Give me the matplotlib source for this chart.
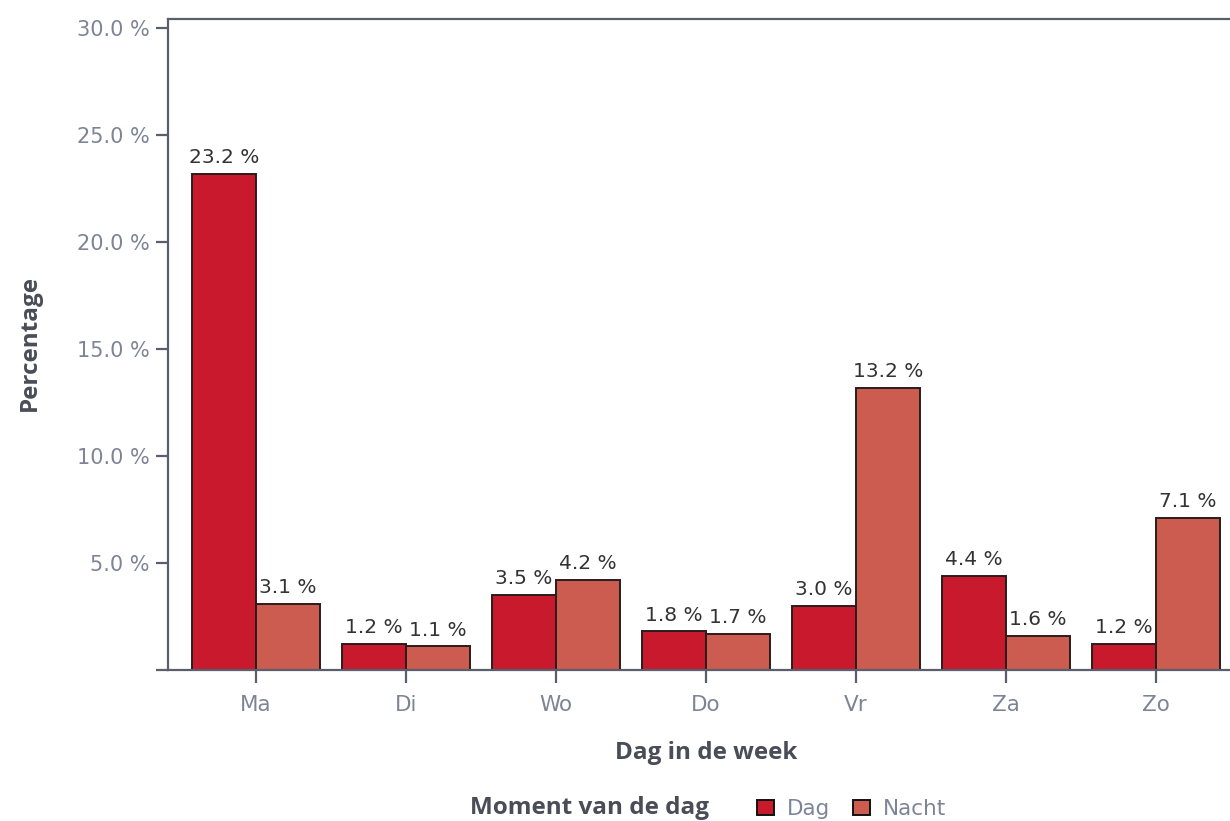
import matplotlib.pyplot as plt
import numpy as np
from matplotlib.patches import Patch
from matplotlib.ticker import FuncFormatter

dagen = ['Ma', 'Di', 'Wo', 'Do', 'Vr', 'Za', 'Zo']
dag = [23.2, 1.2, 3.5, 1.8, 3.0, 4.4, 1.2]
nacht = [3.1, 1.1, 4.2, 1.7, 13.2, 1.6, 7.1]
yticks = [0, 5, 10, 15, 20, 25, 30]

KLEUR_DAG = '#C81A2C'
KLEUR_NACHT = '#CD5C50'
RAND = '#2a1c1c'
AS_KLEUR = '#5a5f6b'
TICK_KLEUR = '#7d8496'
TEKST = '#333333'
TITEL = '#4a4d57'
VET = ['Open Sans', 'DejaVu Sans']

plt.rcParams['font.family'] = ['DejaVu Sans']

W, H = 1230, 821
fig = plt.figure(figsize=(W / 100, H / 100), dpi=100)
# assen lopen rechts iets buiten het beeld door (zoals in het origineel)
ax = fig.add_axes([168 / W, 1 - 670 / H, (1244 - 168) / W, (670 - 19) / H])

x = np.arange(len(dagen))
b = 64 / 150
bars_dag = ax.bar(x - b / 2, dag, b, color=KLEUR_DAG, edgecolor=RAND, linewidth=1.4)
bars_nacht = ax.bar(x + b / 2, nacht, b, color=KLEUR_NACHT, edgecolor=RAND, linewidth=1.4)

for bars in (bars_dag, bars_nacht):
    ax.bar_label(bars, labels=[f'{v:.1f} %' for v in bars.datavalues],
                 padding=5, fontsize=14.5, color=TEKST)

ax.set_xlim(-0.587, 6.587)
ax.set_ylim(0, 30.42)
ax.set_xticks(x)
ax.set_xticklabels(dagen)
ax.set_yticks(yticks)
ax.yaxis.set_major_formatter(FuncFormatter(lambda v, p: '' if v == 0 else f'{v:.1f} %'))

for s in ['left', 'bottom', 'top']:
    ax.spines[s].set_color(AS_KLEUR)
    ax.spines[s].set_linewidth(1.6)
ax.spines['right'].set_visible(False)
ax.tick_params(axis='both', colors=AS_KLEUR, labelcolor=TICK_KLEUR, labelsize=15,
               length=9, width=1.6)
ax.tick_params(axis='x', pad=9, labelsize=15.5)
ax.tick_params(axis='y', pad=4)

ax.set_xlabel('Dag in de week', fontsize=17.5, fontweight='bold', color=TITEL,
              family=VET, labelpad=19)
fig.text(30 / W, 1 - 343 / H, 'Percentage', rotation=90, ha='center', va='center',
         fontsize=17.5, fontweight='bold', color=TITEL, family=VET)

fig.text(590 / W, 1 - 808 / H, 'Moment van de dag', ha='center', va='center',
         fontsize=17.5, fontweight='bold', color=TITEL, family=VET)
handles = [Patch(facecolor=KLEUR_DAG, edgecolor='#111111', linewidth=1.4, label='Dag'),
           Patch(facecolor=KLEUR_NACHT, edgecolor='#111111', linewidth=1.4, label='Nacht')]
leg = fig.legend(handles=handles, loc='center left', bbox_to_anchor=(738 / W, 1 - 809 / H),
                 ncol=2, frameon=False, fontsize=15.5, handlelength=0.75, handleheight=0.75,
                 handletextpad=0.6, columnspacing=1.1)
for t in leg.get_texts():
    t.set_color(TICK_KLEUR)

fig.savefig('out.png', dpi=100)
